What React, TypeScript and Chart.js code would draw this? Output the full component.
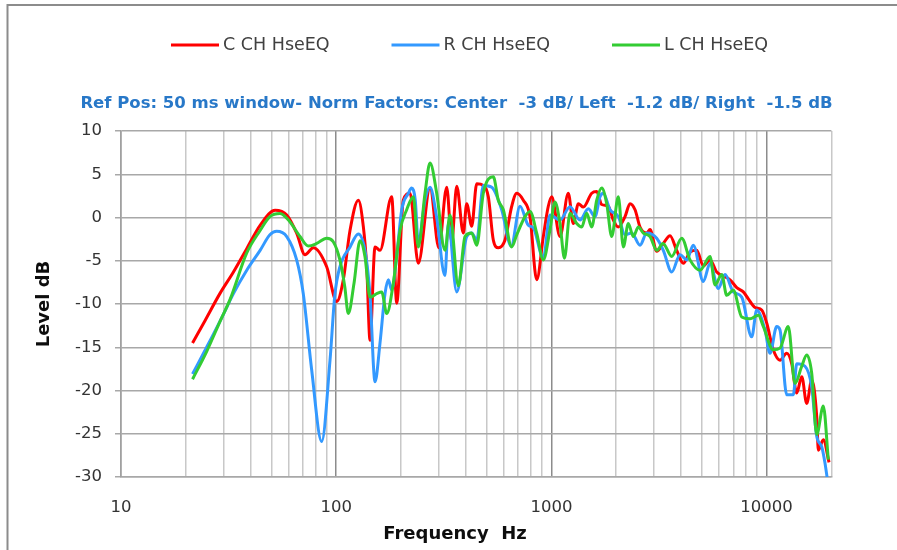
import React, { useEffect, useRef } from 'react';
import { Chart, registerables } from 'chart.js';

Chart.register(...registerables);
Chart.defaults.font.family = '"DejaVu Sans", "Liberation Sans", sans-serif';

// ---- Data ----
const seriesNames = ['C CH HseEQ', 'R CH HseEQ', 'L CH HseEQ'];
const seriesColors = ['#FF0000', '#3399FF', '#33CC33'];

const centerFreq = [21.5, 24.6, 28.8, 33.3, 38.4, 44.3, 52, 58.9, 65.5, 71.6, 78.3, 90.3, 100.5, 107.9, 115.9, 126.7, 133.6, 138.6, 143.6, 151.5, 159.8, 181.1, 191.1, 205, 220.3, 240.7, 272.9, 300, 326.2, 344.1, 363.1, 389.6, 404.1, 426.3, 449.8, 482.6, 509.2, 537, 566.5, 608.7, 654, 690, 740.4, 795.4, 854.4, 917.1, 967.2, 1003, 1096, 1198, 1264, 1334, 1407, 1539, 1624, 1713, 1838, 1940, 2046, 2198, 2319, 2447, 2581, 2773, 2872, 3085, 3311, 3557, 3821, 4103, 4407, 4733, 5081, 5458, 5864, 6761, 7263, 7794, 8222, 8834, 9489, 10010, 10740, 11540, 12400, 13080, 13800, 14560, 15360, 16200, 17090, 17390, 18340, 19500];
const centerLevel = [-14.5, -11.9, -8.8, -6.3, -3.6, -0.9, 0.85, 0.3, -1.8, -4.3, -3.5, -5.7, -9.7, -7.2, -1.5, 2.0, -1.0, -5.7, -14.2, -3.4, -3.8, 2.4, -9.9, 2.0, 2.8, -5.3, 3.4, -3.5, 3.5, -2.8, 3.6, -1.8, 1.6, -1.0, 3.9, 3.7, 2.4, -2.6, -3.5, -2.6, 1.3, 2.8, 2.0, 0.1, -7.2, -2.2, 1.3, 2.4, -2.2, 2.8, -0.7, 1.6, 1.2, 2.8, 3.0, 1.5, 1.3, -0.3, -1.1, 0.1, 1.6, 0.9, -1.1, -1.8, -1.4, -3.9, -3.0, -2.1, -3.8, -5.3, -4.0, -3.8, -5.6, -4.9, -6.3, -7.2, -8.1, -8.6, -9.4, -10.4, -10.7, -12.2, -15.3, -16.5, -15.7, -16.9, -20.3, -18.4, -21.5, -18.8, -23.0, -26.9, -25.7, -28.3];

const rightFreq = [21.5, 25, 29.1, 33.3, 38.4, 44.3, 49.2, 52.9, 58.9, 65.5, 70.3, 76.9, 85.6, 93.6, 98.5, 104, 116, 126.7, 136, 143.6, 151.5, 159.8, 168.6, 174.7, 181.1, 191.1, 201.6, 216.5, 224, 233, 240.7, 258.6, 272.9, 293, 320, 332, 363, 404, 426, 450, 482.6, 528, 587.5, 650, 715, 781, 824, 917, 985, 1096, 1220, 1358, 1484, 1594, 1682, 1743, 1872, 2046, 2198, 2361, 2581, 2773, 3085, 3311, 3623, 3960, 4254, 4564, 5081, 5458, 5965, 6409, 7004, 7662, 8528, 8995, 9830, 10370, 11140, 11540, 12400, 13310, 13800, 15080, 16200, 17090, 18030, 18680, 19140];
const rightLevel = [-18.1, -15.0, -11.8, -8.8, -6.1, -3.8, -2.0, -1.6, -2.2, -4.9, -8.8, -17.6, -25.9, -16.5, -9.0, -5.7, -3.4, -1.9, -3.8, -9.0, -19.0, -14.5, -8.8, -7.2, -8.4, -4.4, 0.9, 2.8, 3.4, 2.0, -3.0, 2.0, 3.5, 0.0, -6.7, -0.7, -8.6, -2.2, -1.8, -2.6, 3.7, 3.5, 0.9, -3.3, 1.3, -0.9, -1.2, -4.7, 0.3, -0.3, 1.25, -0.3, 1.0, 0.1, 2.4, 2.8, 0.9, 0.1, -2.0, -1.8, -3.2, -1.8, -2.4, -3.8, -6.3, -4.3, -4.9, -3.2, -7.4, -5.3, -8.2, -6.6, -8.6, -9.2, -13.8, -10.7, -13.0, -15.7, -12.6, -13.0, -20.5, -20.5, -16.9, -17.2, -19.6, -25.3, -26.5, -28.4, -30.2];

const leftFreq = [21.5, 25, 29.1, 32.1, 38.4, 44.3, 49.2, 54.8, 60, 67.9, 74.2, 81.2, 90.3, 96.9, 104, 109.6, 113.8, 121, 129, 136, 143.6, 154.3, 162.7, 171.7, 184.2, 198, 212.6, 228.2, 240.7, 258.6, 272.9, 293.1, 320.3, 337.9, 369.4, 396.8, 426.3, 449.8, 482.6, 537, 566.5, 597.7, 654, 690, 754, 795.4, 854.4, 917.1, 985.1, 1039, 1096, 1150, 1220, 1311, 1383, 1459, 1539, 1624, 1713, 1807, 1906, 2046, 2159, 2277, 2403, 2534, 2674, 2872, 3085, 3300, 3623, 4032, 4407, 4903, 5458, 5758, 6187, 6526, 7004, 7662, 8374, 9151, 9652, 10740, 11540, 12610, 13550, 14560, 15360, 16200, 17090, 18340, 19350];
const leftLevel = [-18.7, -15.5, -11.8, -9.5, -4.1, -1.5, 0.1, 0.45, -0.3, -2.2, -3.3, -3.0, -2.4, -2.8, -4.9, -8.0, -11.1, -7.6, -2.7, -4.5, -9.2, -8.8, -8.6, -11.1, -7.6, -1.5, 0.9, 2.4, -3.4, 2.8, 6.3, 2.8, -3.8, 0.3, -7.9, -2.2, -1.8, -3.2, 2.8, 4.7, 2.0, 0.9, -3.4, -2.0, 0.1, 0.7, -1.8, -4.9, -1.4, 1.8, -0.7, -4.7, 0.5, -0.7, -1.1, 0.5, -1.1, 2.0, 3.4, 1.6, -2.2, 2.4, -3.4, -0.7, -2.2, -1.1, -1.8, -2.2, -3.8, -3.0, -4.5, -2.4, -4.9, -6.1, -4.5, -7.8, -6.6, -9.0, -8.4, -11.5, -11.7, -11.3, -12.6, -15.3, -15.1, -12.6, -19.2, -17.2, -15.9, -18.0, -25.1, -21.8, -28.0];

const xGridValues = [10, 20, 30, 40, 50, 60, 70, 80, 90, 100, 200, 300, 400, 500, 600, 700, 800, 900, 1000, 2000, 3000, 4000, 5000, 6000, 7000, 8000, 9000, 10000, 20000];
const xLabelValues = [10, 100, 1000, 10000];
const xMin = 10;
const xMax = 20000;
const yMin = -30;
const yMax = 10;
const yStep = 5;

const subtitleText = 'Ref Pos: 50 ms window- Norm Factors: Center  -3 dB/ Left  -1.2 dB/ Right  -1.5 dB';
const xTitleText = 'Frequency  Hz';
const yTitleText = 'Level dB';

function toPoints(freq: number[], level: number[]) {
  const n = Math.min(freq.length, level.length);
  const pts: { x: number; y: number }[] = [];
  for (let i = 0; i < n; i++) pts.push({ x: freq[i], y: level[i] });
  return pts;
}

const textPlugin = {
  id: 'chartText',
  beforeDraw(chart: any) {
    const ctx = chart.ctx;
    ctx.save();
    ctx.fillStyle = '#ffffff';
    ctx.fillRect(0, 0, chart.width, chart.height);
    ctx.strokeStyle = '#8c8c8c';
    ctx.lineWidth = 2;
    ctx.strokeRect(7.5, 5, chart.width + 20, chart.height + 20);
    ctx.restore();
  },
  afterDraw(chart: any) {
    const ctx = chart.ctx;
    ctx.save();
    // legend
    ctx.font = '17.5px "DejaVu Sans"';
    ctx.textBaseline = 'middle';
    ctx.textAlign = 'left';
    chart.data.datasets.forEach((ds: any, i: number) => {
      const x0 = 171 + i * 220.5;
      ctx.strokeStyle = ds.borderColor;
      ctx.lineWidth = 3;
      ctx.beginPath();
      ctx.moveTo(x0, 45);
      ctx.lineTo(x0 + 48, 45);
      ctx.stroke();
      ctx.fillStyle = '#404040';
      ctx.fillText(ds.label, x0 + 52, 45);
    });
    // subtitle
    ctx.font = 'bold 16.5px "DejaVu Sans"';
    ctx.fillStyle = '#2878C8';
    ctx.textAlign = 'center';
    ctx.fillText(subtitleText, 456.5, 104);
    // x axis title
    ctx.font = 'bold 18px "DejaVu Sans"';
    ctx.fillStyle = '#0d0d0d';
    ctx.fillText(xTitleText, 455, 534);
    ctx.restore();
  },
};

export default function App() {
  const canvasRef = useRef<HTMLCanvasElement | null>(null);

  useEffect(() => {
    const canvas = canvasRef.current;
    if (!canvas) return;
    const series = [
      { f: centerFreq, l: centerLevel, order: 3 },
      { f: rightFreq, l: rightLevel, order: 2 },
      { f: leftFreq, l: leftLevel, order: 1 },
    ];
    const chart = new Chart(canvas, {
      type: 'line',
      data: {
        datasets: series.map((s, i) => ({
          label: seriesNames[i],
          data: toPoints(s.f, s.l),
          borderColor: seriesColors[i],
          backgroundColor: seriesColors[i],
          borderWidth: 3,
          pointRadius: 0,
          fill: false,
          cubicInterpolationMode: 'monotone',
          order: s.order,
        })),
      },
      options: {
        animation: false,
        responsive: false,
        events: [],
        layout: { padding: { left: 16, right: 65.6, top: 131, bottom: 0 } },
        plugins: {
          legend: { display: false },
          title: { display: false },
          tooltip: { enabled: false },
        },
        scales: {
          x: {
            type: 'logarithmic',
            min: xMin,
            max: xMax,
            afterBuildTicks: (scale: any) => {
              scale.ticks = xGridValues.map((v) => ({ value: v }));
            },
            afterFit: (scale: any) => {
              scale.height = 73;
            },
            ticks: {
              autoSkip: false,
              maxRotation: 0,
              minRotation: 0,
              padding: 21,
              color: '#333333',
              font: { size: 16.5 },
              callback: (value: any) => (xLabelValues.includes(Number(value)) ? String(value) : ''),
            },
            grid: {
              drawTicks: false,
              lineWidth: 1.5,
              color: (ctx: any) =>
                ctx.tick && xLabelValues.includes(ctx.tick.value) ? '#8c8c8c' : '#c8c8c8',
            },
            border: { display: true, color: '#a8a8a8', width: 1.5 },
          },
          y: {
            min: yMin,
            max: yMax,
            afterFit: (scale: any) => {
              scale.width = 105;
            },
            ticks: {
              stepSize: yStep,
              padding: 13,
              color: '#333333',
              font: { size: 16.5 },
            },
            grid: { color: '#a8a8a8', lineWidth: 1.5, tickLength: 6 },
            border: { display: true, color: '#a0a0a0', width: 1.5 },
            title: {
              display: true,
              text: yTitleText,
              color: '#0d0d0d',
              font: { size: 18, weight: 'bold' },
              padding: { top: 18, bottom: 0 },
            },
          },
        },
      } as any,
      plugins: [textPlugin],
    });
    return () => {
      chart.destroy();
    };
  }, []);

  return (
    <div style={{ position: 'absolute', left: 0, top: 0, width: 897, height: 550, background: '#ffffff' }}>
      <canvas ref={canvasRef} width={897} height={550} />
    </div>
  );
}
